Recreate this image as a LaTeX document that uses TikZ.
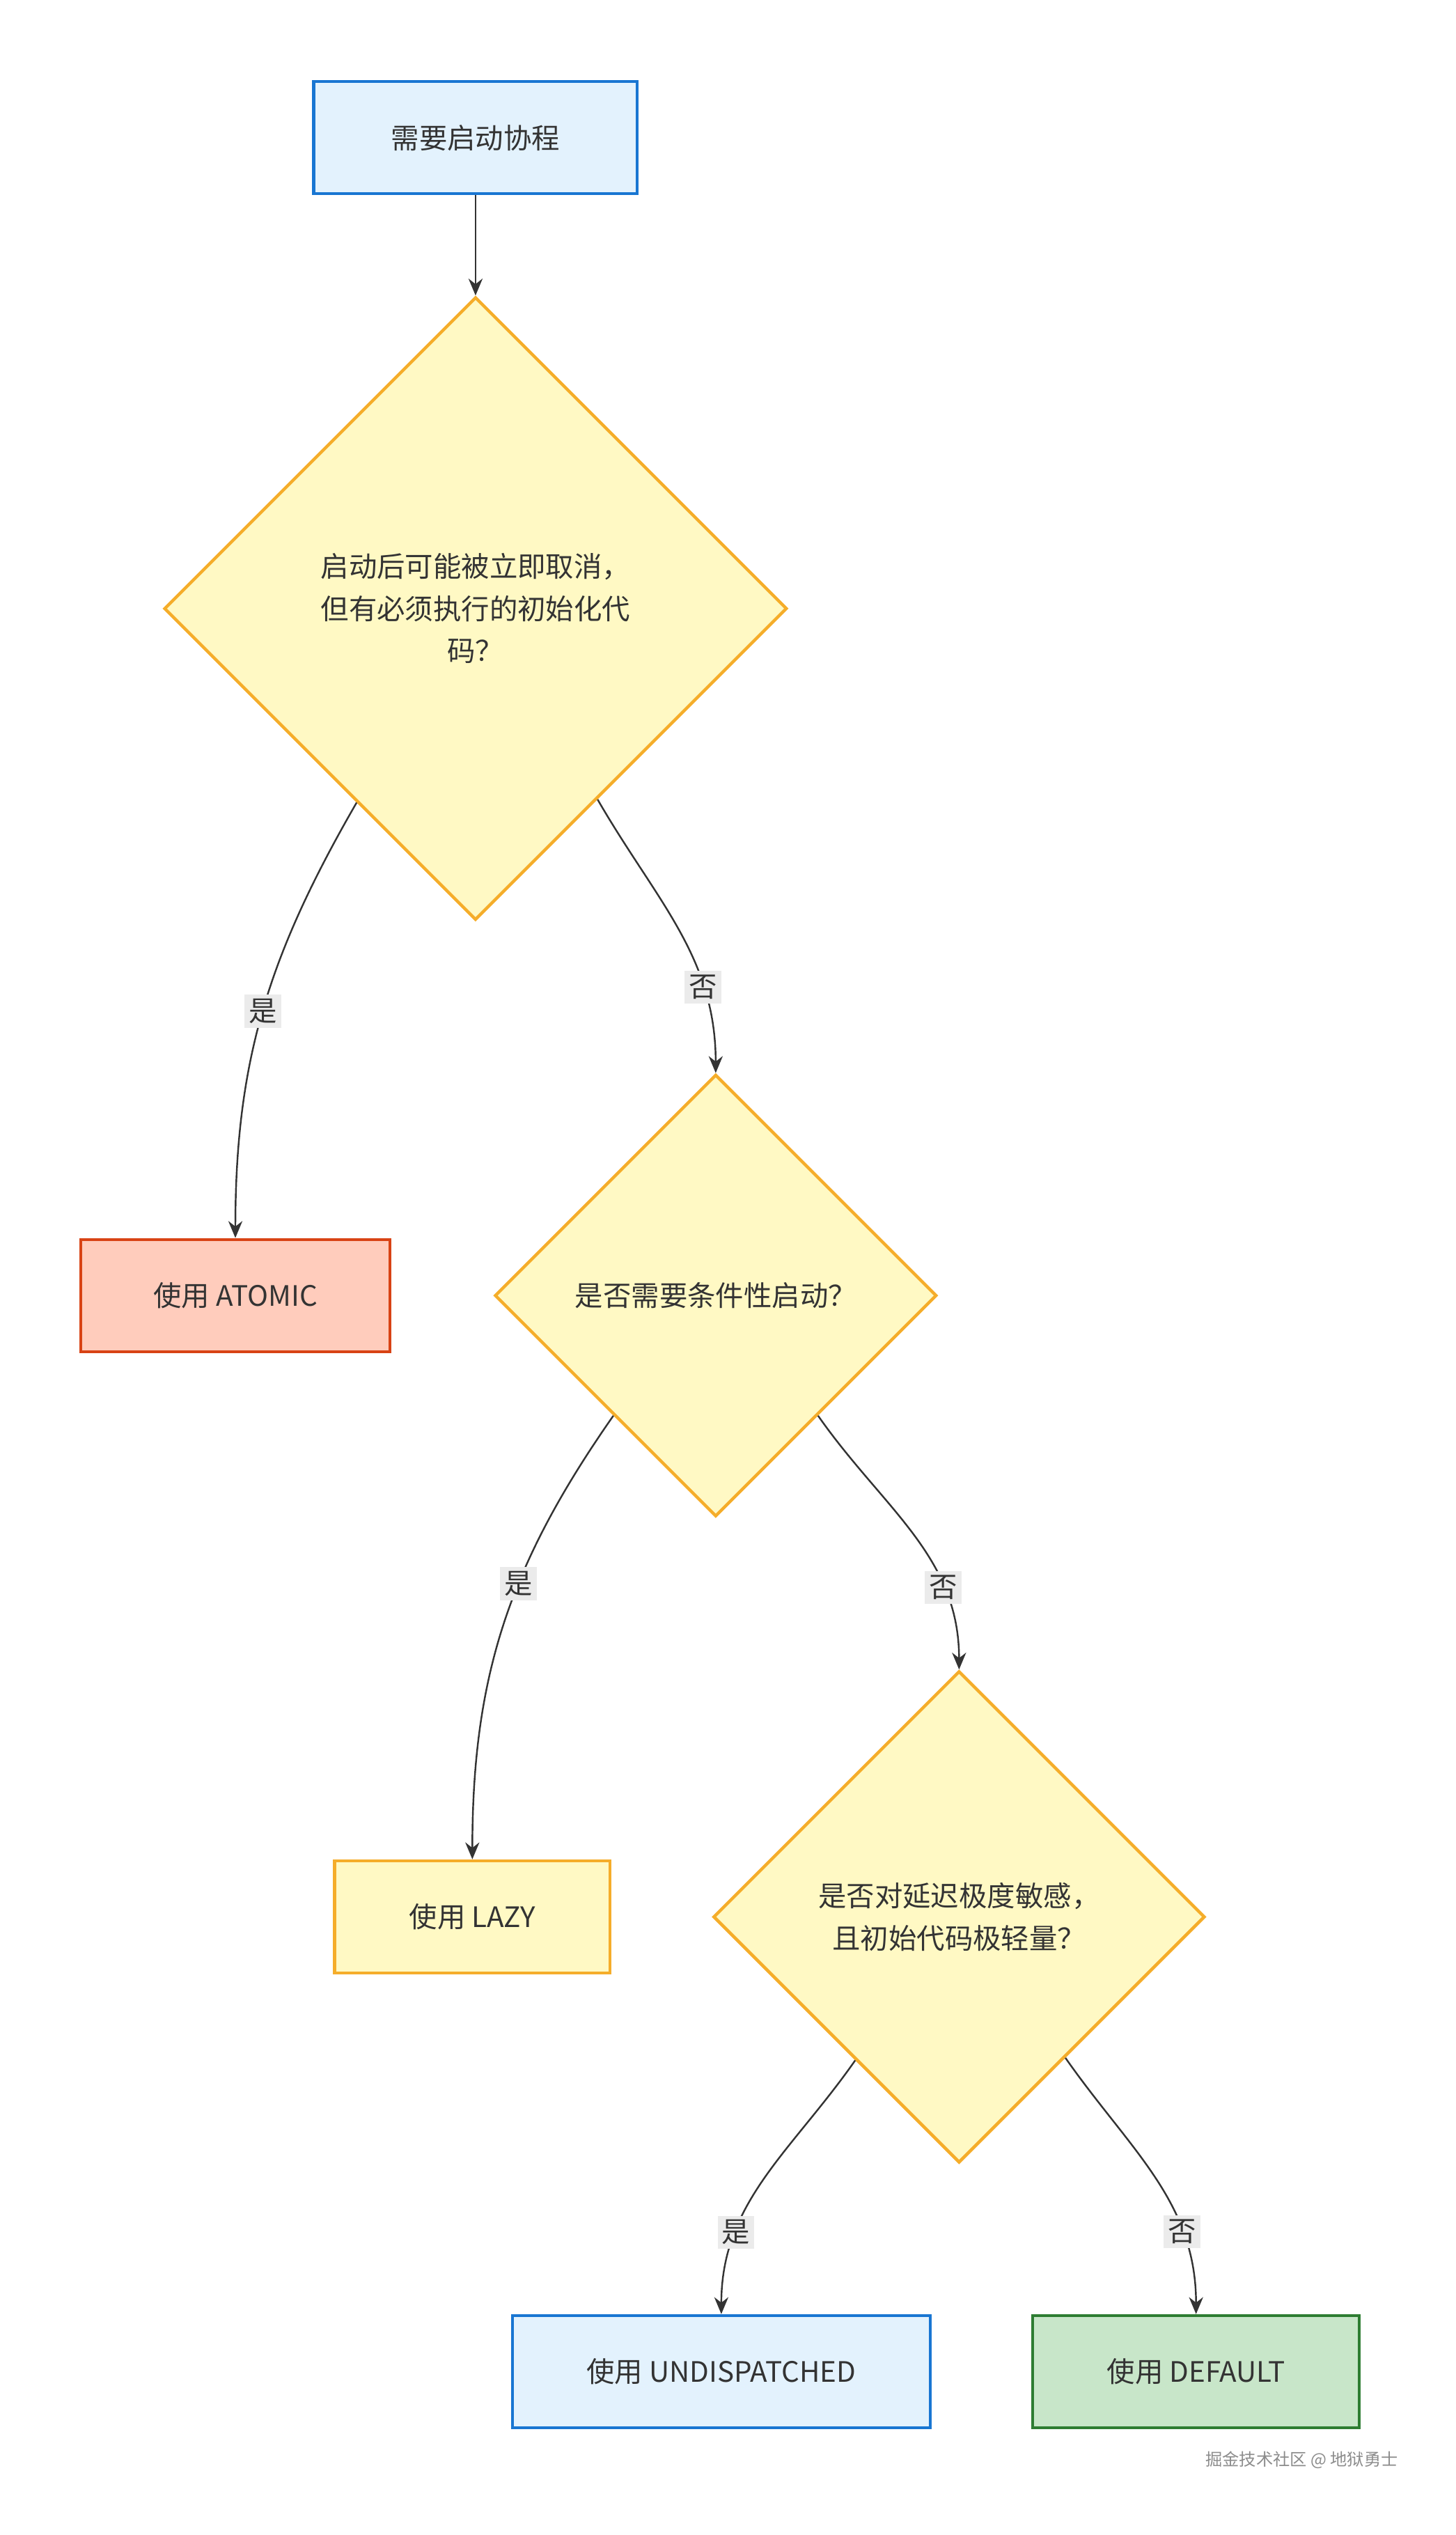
\documentclass[tikz,border=0pt]{standalone}
\usepackage{fontspec}
\setmainfont{Noto Sans CJK SC}
\usetikzlibrary{shapes.geometric,calc,arrows.meta}
\definecolor{bluefill}{HTML}{E3F2FD}\definecolor{blueline}{HTML}{1976D2}
\definecolor{yelfill}{HTML}{FFF9C4}\definecolor{yelline}{HTML}{F5AD2A}
\definecolor{redfill}{HTML}{FFCCBC}\definecolor{redline}{HTML}{D84315}
\definecolor{grnfill}{HTML}{C8E6C9}\definecolor{grnline}{HTML}{2E7D32}
\definecolor{edgecol}{HTML}{333333}
\tikzset{
  box/.style={draw, line width=1.1pt, minimum height=1.4cm, inner sep=2pt},
  choice/.style={draw=yelline, fill=yelfill, line width=1.1pt, diamond, aspect=1, inner sep=0pt, align=center},
  flow/.style={draw=edgecol, line width=0.6pt, -{Stealth[length=6pt,width=5pt]}},
  tag/.style={fill=black!8, inner sep=1.5pt, font=\fontsize{10}{12}\selectfont, text=edgecol},
}
\begin{document}
\begin{tikzpicture}[font=\fontsize{10}{15}\selectfont, text=black!80]
\useasboundingbox (0,0) rectangle (18.18,-31.66);

% nodes
\node[box, draw=blueline, fill=bluefill, minimum width=4.04cm] (start) at (5.94,-1.72) {需要启动协程};
\node[choice, minimum size=7.78cm] (cancel) at (5.94,-7.6) {启动后可能被立即取消，\\但有必须执行的初始化代\\码？};
\node[box, draw=redline, fill=redfill, minimum width=3.86cm] (atomic) at (2.94,-16.18) {使用 ATOMIC};
\node[choice, minimum size=5.52cm] (cond) at (8.94,-16.18) {是否需要条件性启动？};
\node[box, draw=yelline, fill=yelfill, minimum width=3.44cm] (lazy) at (5.9,-23.94) {使用 LAZY};
\node[choice, minimum size=6.14cm] (latency) at (11.98,-23.94) {是否对延迟极度敏感，\\且初始代码极轻量？};
\node[box, draw=blueline, fill=bluefill, minimum width=5.22cm] (undisp) at (9.01,-29.62) {使用 UNDISPATCHED};
\node[box, draw=grnline, fill=grnfill, minimum width=4.08cm] (default) at (14.94,-29.62) {使用 DEFAULT};
\node[text=black!45, font=\fontsize{6}{7}\selectfont] (mark) at (16.26,-30.72) {掘金技术社区 @ 地狱勇士};

% connectors
\draw[flow] (start) -- (cancel.north);
\draw[flow] ($(cancel.west)!0.62!(cancel.south)$) to[out=-120, in=90] node[tag, pos=0.5] {是} (atomic.north);
\draw[flow] ($(cancel.east)!0.61!(cancel.south)$) to[out=-60, in=90] node[tag, pos=0.72] {否} (cond.north);
\draw[flow] ($(cond.west)!0.54!(cond.south)$) to[out=-125, in=90] node[tag, pos=0.4] {是} (lazy.north);
\draw[flow] ($(cond.east)!0.54!(cond.south)$) to[out=-55, in=90] node[tag, pos=0.72] {否} (latency.north);
\draw[flow] ($(latency.west)!0.58!(latency.south)$) to[out=-125, in=90] node[tag, pos=0.72] {是} (undisp.north);
\draw[flow] ($(latency.east)!0.57!(latency.south)$) to[out=-55, in=90] node[tag, pos=0.72] {否} (default.north);
\end{tikzpicture}
\end{document}
